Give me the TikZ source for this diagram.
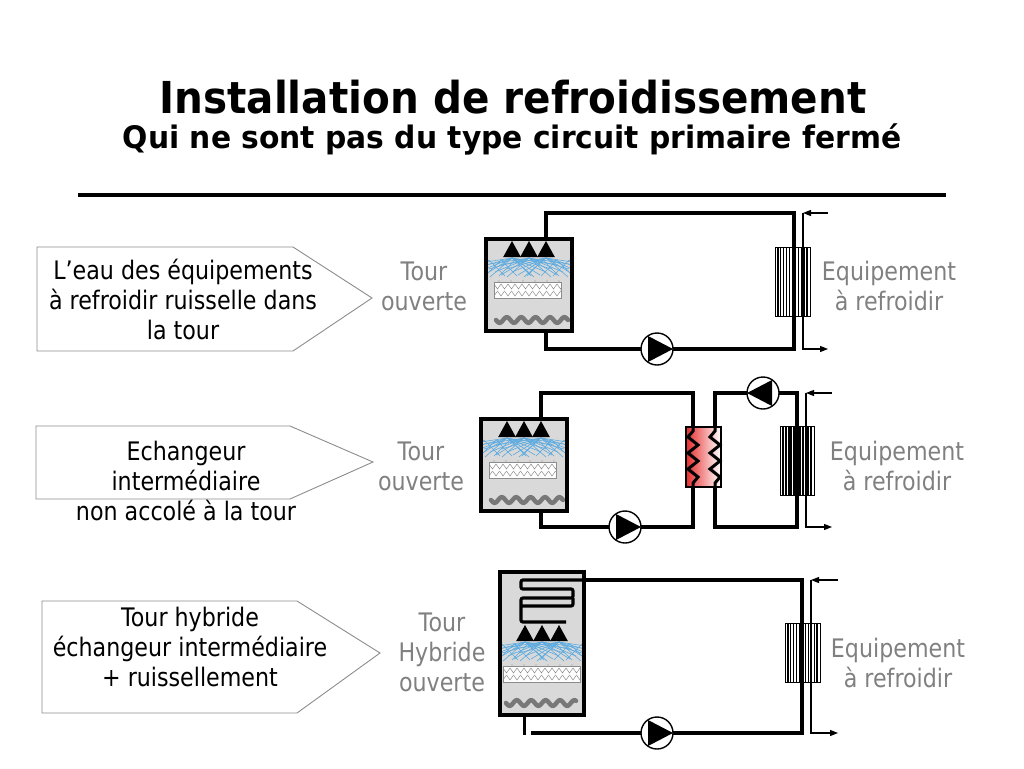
\documentclass[tikz,border=0pt]{standalone}
\usepackage{fontspec}
\setmainfont{DejaVu Sans}[FakeStretch=0.87]
\newfontfamily\titlefont{DejaVu Sans}[FakeStretch=0.92]
\newfontfamily\subtitlefont{DejaVu Sans}[FakeStretch=0.96]
\usetikzlibrary{arrows.meta}
\definecolor{labelgray}{RGB}{128,128,128}
\definecolor{towerfill}{RGB}{217,217,217}
\definecolor{spraycol}{RGB}{90,170,225}
\definecolor{wavegray}{RGB}{120,120,120}
\definecolor{mediagray}{RGB}{140,140,140}
\definecolor{calloutgray}{RGB}{140,140,140}
\definecolor{hxred}{RGB}{230,45,45}
\tikzset{
  pipe/.style={line width=4pt, line join=miter},
  callout/.style={draw=calloutgray, line width=0.9pt},
  calltext/.style={align=center, font=\fontsize{25.5}{30}\selectfont, inner sep=0pt},
  graylabel/.style={calltext, text=labelgray},
  flowarrow/.style={line width=1.1pt, -{Triangle[length=8pt,width=6pt]}},
  pumpR/.style={circle, draw, fill=white, line width=1.4pt, minimum size=32pt, inner sep=0pt,
    path picture={\fill[black] ([xshift=-9pt,yshift=13pt]path picture bounding box.center) -- ([xshift=-9pt,yshift=-13pt]path picture bounding box.center) -- ([xshift=16pt]path picture bounding box.center) -- cycle;}},
  pumpL/.style={circle, draw, fill=white, line width=1.4pt, minimum size=32pt, inner sep=0pt,
    path picture={\fill[black] ([xshift=9pt,yshift=13pt]path picture bounding box.center) -- ([xshift=9pt,yshift=-13pt]path picture bounding box.center) -- ([xshift=-16pt]path picture bounding box.center) -- cycle;}},
  nozzles/.pic={
    \foreach \c in {-17,0,17} \fill ({\c-8.8},0) -- (\c,-16) -- ({\c+8.8},0) -- cycle;
  },
  spray/.pic={
    \foreach \c in {-17,0,17}{
      \foreach \L/\h in {46/7,40/11,34/14,28/17,22/19}{
        \draw[spraycol,line width=0.6pt] (\c,1) -- ++(-\L,\h);
        \draw[spraycol,line width=0.6pt] (\c,1) -- ++(\L,\h);
      }
    }
    \foreach \x in {-40,-28,-14,14,28,40}{
      \draw[spraycol,line width=0.5pt] (\x,3) -- ++(16,16);
      \draw[spraycol,line width=0.5pt] (\x,3) -- ++(-16,16);
    }
    \foreach \x in {-30,-18,-6,6,18,30} \fill[mediagray] (\x,24) circle (0.7);
  },
  pics/media/.style={code={
    \fill[white] (0,0) rectangle (#1,16);
    \begin{scope}
      \clip (0,0) rectangle (#1,16);
      \foreach \i in {0,...,12}{
        \draw[mediagray,line width=0.5pt] ({\i*7},2) -- ({\i*7+3.5},7) -- ({\i*7+7},2);
        \draw[mediagray,line width=0.5pt] ({\i*7-3.5},9) -- ({\i*7},14) -- ({\i*7+3.5},9);
      }
    \end{scope}
    \draw[mediagray,line width=0.8pt] (0,0) rectangle (#1,16);
  }},
  pics/wave/.style={code={
    \draw[wavegray, line width=4.5pt, line cap=round] plot[domain=0:#1, samples=80, smooth] (\x,{2.8*sin(\x*25)});
  }},
  tower/.pic={
    \fill[towerfill] (0,0) rectangle (86,92);
    \begin{scope}
      \clip (0,0) rectangle (86,92);
      \pic at (43,18) {spray};
    \end{scope}
    \pic at (43,18) {nozzles};
    \pic at (8,43) {media=67};
    \pic at (10,81) {wave=72};
    \draw[line width=4pt] (0,0) rectangle (86,92);
    \coordinate (-top) at (60,0);
    \coordinate (-bot) at (60,92);
  },
  pics/equip/.style n args={3}{code={
    \fill[white] (0,0) rectangle (#1,#2);
    \foreach \i in {1,...,11} \draw[line width=#3] ({\i*#1/12},0) -- ({\i*#1/12},#2);
    \draw[line width=1pt] (0,0) rectangle (#1,#2);
  }}
}
\begin{document}
\begin{tikzpicture}[x=1pt,y=-1pt]
\useasboundingbox (0,0) rectangle (1024,768);

% Title
\node[anchor=base, font=\titlefont\bfseries\fontsize{44}{50}\selectfont] (title) at (513,113) {Installation de refroidissement};
\node[anchor=base, font=\subtitlefont\bfseries\fontsize{31}{36}\selectfont] (subtitle) at (512,148) {Qui ne sont pas du type circuit primaire fermé};
\draw[line width=4pt] (78,195) -- (946,195);

% Callouts
\draw[callout] (37,247) -- (293,247) -- (372,298) -- (293,351) -- (37,351) -- cycle;
\draw[callout] (36,426) -- (290,426) -- (373,462) -- (290,499) -- (36,499) -- cycle;
\draw[callout] (42,601) -- (297,601) -- (380,653) -- (297,713) -- (42,713) -- cycle;
\node[calltext] (txt1) at (183,303) {\strut L’eau des équipements\\\strut à refroidir ruisselle dans\\\strut la tour};
\node[calltext] (txt2) at (186,484) {\strut Echangeur\\\strut intermédiaire\\\strut non accolé à la tour};
\node[calltext] (txt3) at (190,650) {\strut Tour hybride\\\strut échangeur intermédiaire\\\strut + ruissellement};

% Labels
\node[graylabel] (lab1) at (424,289) {\strut Tour\\\strut ouverte};
\node[graylabel] (lab2) at (421,469) {\strut Tour\\\strut ouverte};
\node[graylabel] (lab3) at (442,655) {\strut Tour\\\strut Hybride\\\strut ouverte};
\node[graylabel] (eq1) at (889,289) {\strut Equipement\\\strut à refroidir};
\node[graylabel] (eq2) at (897,469) {\strut Equipement\\\strut à refroidir};
\node[graylabel] (eq3) at (898,666) {\strut Equipement\\\strut à refroidir};

% ===== Row 1 =====
\pic (t1) at (486,239) {tower};
\pic at (775,247) {equip={35}{69}{1.3pt}};
\coordinate (e1t) at (794,213);
\coordinate (e1b) at (794,349);
\draw[pipe] (t1-top) |- (e1t) -- (e1b) -| (t1-bot);
\node[pumpR] (pu1) at (657,349) {};
\coordinate (a1in) at (828,213);
\coordinate (a1t) at (803,213);
\coordinate (a1b) at (803,349);
\coordinate (a1out) at (828,349);
\draw[flowarrow] (a1in) -- (a1t);
\draw[flowarrow] (a1t) -- (a1b) -- (a1out);

% ===== Row 2 =====
\pic (t2) at (481,419) {tower};
\shade[left color=hxred, right color=white] (686,427) rectangle (721,487);
\draw[line width=1.5pt] (686,427) rectangle (721,487);
\coordinate (hxlt) at (693,427);
\coordinate (hxlb) at (693,487);
\coordinate (hxrt) at (715,427);
\coordinate (hxrb) at (715,487);
\draw[line width=3pt, line join=miter] (hxlt) -- (693,431) -- (688,437) -- (698,445) -- (688,453) -- (698,461) -- (688,469) -- (698,477) -- (693,483) -- (hxlb);
\draw[line width=3pt, line join=miter] (hxrt) -- (715,431) -- (710,437) -- (720,445) -- (710,453) -- (720,461) -- (710,469) -- (720,477) -- (715,483) -- (hxrb);
\pic at (780,426) {equip={34}{69}{2pt}};
\coordinate (e2b) at (797,527);
\draw[pipe] (t2-top) -- ++(0,-26) -| (hxlt);
\draw[pipe] (hxlb) -- ++(0,40) -| (t2-bot);
\draw[pipe] (hxrt) -- ++(0,-34) -| (e2b) -| (hxrb);
\node[pumpR] (pu2) at (625,527) {};
\node[pumpL] (pu3) at (763,393) {};
\coordinate (a2in) at (832,393);
\coordinate (a2t) at (806,393);
\coordinate (a2b) at (806,527);
\coordinate (a2out) at (832,527);
\draw[flowarrow] (a2in) -- (a2t);
\draw[flowarrow] (a2t) -- (a2b) -- (a2out);

% ===== Row 3 =====
\fill[towerfill] (500,572) rectangle (584,715);
\begin{scope}
  \clip (500,572) rectangle (584,715);
  \pic at (542,641) {spray};
\end{scope}
\pic at (542,641) {nozzles};
\pic at (503,666) {media=77};
\pic at (506,703) {wave=70};
\draw[line width=3.2pt, rounded corners=2pt] (586,580) -- (521,580) -- (521,589) -- (573,589) -- (573,598) -- (521,598) -- (521,622) -- (566,622);
\draw[line width=3.2pt, rounded corners=2pt] (521,606) -- (573,606) -- (573,598);
\draw[line width=4pt] (500,572) rectangle (584,715);
\coordinate (t3-out) at (584,580);
\coordinate (t3-bot) at (524,715);
\pic at (785,623) {equip={35}{59}{1.3pt}};
\coordinate (e3b) at (802,733);
\coordinate (p3end) at (531,733);
\draw[pipe] (t3-out) -| (e3b) -- (p3end);
\draw[line width=3pt] (t3-bot) -- ++(0,20);
\node[pumpR] (pu4) at (657,733) {};
\coordinate (a3in) at (838,580);
\coordinate (a3t) at (811,580);
\coordinate (a3b) at (811,733);
\coordinate (a3out) at (838,733);
\draw[flowarrow] (a3in) -- (a3t);
\draw[flowarrow] (a3t) -- (a3b) -- (a3out);
\end{tikzpicture}
\end{document}
